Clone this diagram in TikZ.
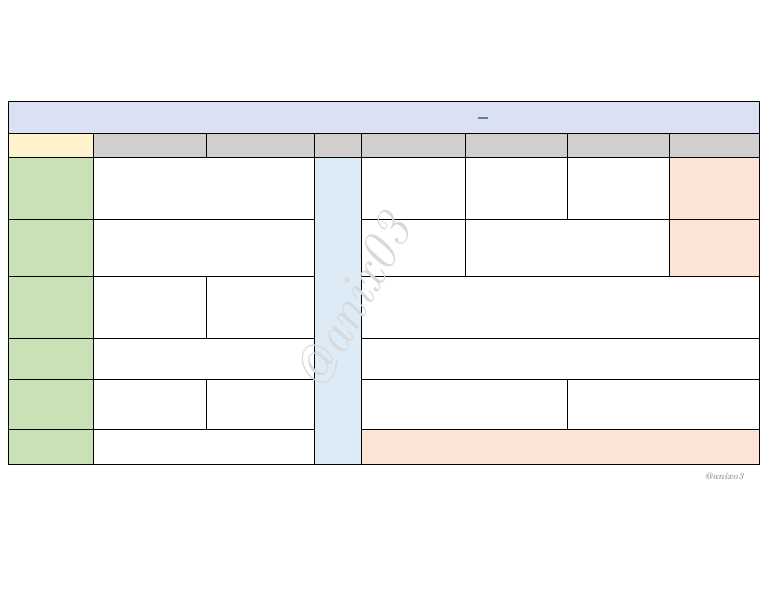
\documentclass[tikz,border=0pt]{standalone}
\begin{document}
\begin{tikzpicture}[x=0.75pt,y=-0.75pt,
 cell/.style={draw=black,line width=0.6pt}]
\useasboundingbox (0,0) rectangle (768,594);
\definecolor{tb}{HTML}{D9E1F2}\definecolor{gr}{HTML}{C9E1B5}\definecolor{pc}{HTML}{FCE4D6}
\definecolor{gy}{HTML}{D0CECE}\definecolor{ye}{HTML}{FFF2CC}\definecolor{lb}{HTML}{DDEBF7}
\definecolor{dc}{HTML}{6A78A8}
\draw[cell,fill=tb] (8,101) rectangle (759,133);
\node (dash) at (483,118) {\textcolor{dc}{\rule{8pt}{0.9pt}}};
\draw[cell,fill=ye] (8,133) rectangle (93,157);
\foreach \a/\b in {93/206,206/314,314/361,361/465,465/567,567/669,669/759}
  \draw[cell,fill=gy] (\a,133) rectangle (\b,157);
\foreach \a/\b in {157/219,219/276,276/338,338/379,379/429,429/464}
  \draw[cell,fill=gr] (8,\a) rectangle (93,\b);
\draw[cell,fill=lb] (314,157) rectangle (361,464);
% row1
\draw[cell] (93,157) rectangle (314,219);
\draw[cell] (361,157) rectangle (465,219);
\draw[cell] (465,157) rectangle (567,219);
\draw[cell] (567,157) rectangle (669,219);
\draw[cell,fill=pc] (669,157) rectangle (759,219);
% row2
\draw[cell] (93,219) rectangle (314,276);
\draw[cell] (361,219) rectangle (465,276);
\draw[cell] (465,219) rectangle (669,276);
\draw[cell,fill=pc] (669,219) rectangle (759,276);
% row3
\draw[cell] (93,276) rectangle (206,338);
\draw[cell] (206,276) rectangle (314,338);
\draw[cell] (361,276) rectangle (759,338);
% row4
\draw[cell] (93,338) rectangle (314,379);
\draw[cell] (361,338) rectangle (759,379);
% row5
\draw[cell] (93,379) rectangle (206,429);
\draw[cell] (206,379) rectangle (314,429);
\draw[cell] (361,379) rectangle (567,429);
\draw[cell] (567,379) rectangle (759,429);
% row6
\draw[cell] (93,429) rectangle (314,464);
\draw[cell,fill=pc] (361,429) rectangle (759,464);
\node[rotate=62,text=gray!30,font=\fontsize{40}{40}\selectfont\itshape] (wm) at (352,302) {@anix03};
\node[text=gray!80,font=\scriptsize\itshape\bfseries] (sig) at (724,476) {@anixo3};
\end{tikzpicture}
\end{document}
